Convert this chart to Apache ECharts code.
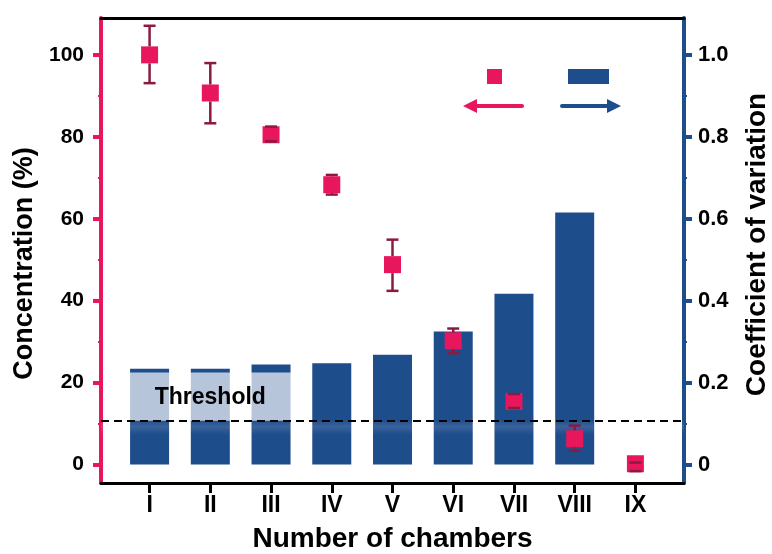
<!DOCTYPE html>
<html>
<head>
<meta charset="utf-8">
<script src="https://cdn.jsdelivr.net/npm/echarts@6/dist/echarts.min.js"></script>
<style>
  html, body { margin: 0; padding: 0; background: #fff; }
  #chart { width: 772px; height: 554px; }
</style>
</head>
<body>
<div id="chart"></div>
<script>
// chamber positions on the x axis (1..9) and their labels
const chamberPos = [1, 2, 3, 4, 5, 6, 7, 8, 9];
const chamberNames = ['I', 'II', 'III', 'IV', 'V', 'VI', 'VII', 'VIII', 'IX'];

// concentration (%) with error bar ends
const concentration = [100, 90.7, 80.5, 68.3, 48.8, 30.2, 15.4, 6.3, 0.2];
const concLow = [93.1, 83.3, 78.9, 65.9, 42.4, 27.2, 13.8, 3.4, -1.6];
const concHigh = [107.1, 98.0, 82.5, 70.7, 54.9, 33.2, 17.2, 9.5, 0.5];

// coefficient of variation (bars), IX has no bar
const cvValues = [0.234, 0.234, 0.244, 0.247, 0.268, 0.325, 0.417, 0.615, null];

const threshold = 10.7; // in % units, same line as 0.107 on the right axis
const thresholdBox = [0.5, 3.5, threshold, 22.5]; // x from, x to, y from, y to

const leftTicks = [0, 20, 40, 60, 80, 100];
const leftMinor = [10, 30, 50, 70, 90];
const rightTicks = [0, 0.2, 0.4, 0.6, 0.8, 1.0];
const rightMinor = [0.1, 0.3, 0.5, 0.7, 0.9];

const pink = '#e8175d';
const blue = '#1e4d8c';
const errColor = '#8b1a40';
const font = 'Liberation Sans, Arial, sans-serif';
const markerSize = 17;

const myChart = echarts.init(document.getElementById('chart'));

const option = {
    animation: false,
    textStyle: { fontFamily: font },
    grid: { left: 101, right: 88, top: 18, bottom: 71, outerBoundsMode: 'none' },
    xAxis: [
        {
            type: 'value',
            min: 0.2,
            max: 9.8,
            splitLine: { show: false },
            axisLine: { onZero: false, lineStyle: { color: '#000', width: 3 } },
            axisTick: {
                customValues: chamberPos,
                length: 10,
                lineStyle: { color: '#000', width: 3 }
            },
            axisLabel: {
                customValues: chamberPos,
                formatter: v => chamberNames[Math.round(v) - 1] || '',
                color: '#000',
                fontSize: 23,
                fontWeight: 'bold',
                margin: 11
            },
            name: 'Number of chambers',
            nameLocation: 'middle',
            nameGap: 42,
            nameTextStyle: { color: '#000', fontSize: 28, fontWeight: 'bold' }
        },
        {
            type: 'value',
            position: 'top',
            min: 0.2,
            max: 9.8,
            splitLine: { show: false },
            axisLine: { onZero: false, lineStyle: { color: '#000', width: 3 } },
            axisTick: { show: false },
            axisLabel: { show: false }
        }
    ],
    yAxis: [
        {
            type: 'value',
            position: 'left',
            min: -4.5,
            max: 109,
            splitLine: { show: false },
            axisLine: { onZero: false, lineStyle: { color: pink, width: 4 } },
            axisTick: {
                customValues: leftTicks,
                length: 8,
                lineStyle: { color: pink, width: 4 }
            },
            axisLabel: {
                customValues: leftTicks,
                color: '#000',
                fontSize: 21,
                fontWeight: 'bold',
                margin: 17
            },
            name: 'Concentration (%)',
            nameLocation: 'middle',
            nameGap: 57,
            nameTextStyle: { color: '#000', fontSize: 27, fontWeight: 'bold', padding: [0, 26, 0, 0] }
        },
        {
            type: 'value',
            position: 'right',
            min: -0.045,
            max: 1.09,
            splitLine: { show: false },
            axisLine: { onZero: false, lineStyle: { color: blue, width: 4 } },
            axisTick: {
                customValues: rightTicks,
                length: 8,
                lineStyle: { color: blue, width: 4 }
            },
            axisLabel: {
                customValues: rightTicks,
                formatter: v => (v === 0 ? '0' : v.toFixed(1)),
                color: '#000',
                fontSize: 22,
                fontWeight: 'bold',
                margin: 14
            },
            name: 'Coefficient of variation',
            nameLocation: 'middle',
            nameGap: 59,
            nameTextStyle: { color: '#000', fontSize: 28, fontWeight: 'bold', padding: [0, 0, 0, 12] }
        },
        // minor ticks
        {
            type: 'value',
            position: 'left',
            min: -4.5,
            max: 109,
            splitLine: { show: false },
            axisLine: { show: false },
            axisTick: { customValues: leftMinor, length: 3, lineStyle: { color: pink, width: 2 } },
            axisLabel: { show: false }
        },
        {
            type: 'value',
            position: 'right',
            min: -0.045,
            max: 1.09,
            splitLine: { show: false },
            axisLine: { show: false },
            axisTick: { customValues: rightMinor, length: 3, lineStyle: { color: blue, width: 2 } },
            axisLabel: { show: false }
        }
    ],
    series: [
        {
            name: 'CV',
            type: 'bar',
            xAxisIndex: 0,
            yAxisIndex: 1,
            barWidth: 39,
            z: 2,
            itemStyle: { color: blue },
            data: chamberPos.map((x, i) => [x, cvValues[i]]).filter(d => d[1] !== null)
        },
        {
            // light box behind the "Threshold" text, over the first bars
            name: 'thresholdBox',
            type: 'custom',
            xAxisIndex: 0,
            yAxisIndex: 0,
            z: 3,
            silent: true,
            data: [thresholdBox],
            renderItem: function (params, api) {
                const p1 = api.coord([api.value(0), api.value(3)]);
                const p2 = api.coord([api.value(1), api.value(2)]);
                const bandTop = api.coord([0.2, api.value(2)]);
                const bandBottom = api.coord([9.8, api.value(2) - 3.5]);
                return {
                    type: 'group',
                    children: [
                        {
                            // faint glow just under the threshold line
                            type: 'rect',
                            shape: {
                                x: bandTop[0], y: bandTop[1],
                                width: bandBottom[0] - bandTop[0], height: bandBottom[1] - bandTop[1]
                            },
                            style: {
                                fill: new echarts.graphic.LinearGradient(0, 0, 0, 1, [
                                    { offset: 0, color: 'rgba(255,255,255,0.02)' },
                                    { offset: 0.4, color: 'rgba(255,255,255,0.12)' },
                                    { offset: 1, color: 'rgba(255,255,255,0)' }
                                ])
                            }
                        },
                        {
                            type: 'rect',
                            shape: { x: p1[0], y: p1[1], width: p2[0] - p1[0], height: p2[1] - p1[1] },
                            style: { fill: 'rgba(255,255,255,0.68)' }
                        },
                        {
                            type: 'text',
                            x: (p1[0] + p2[0]) / 2,
                            y: (p1[1] + p2[1]) / 2 + 1,
                            style: {
                                text: 'Threshold',
                                fill: '#000',
                                font: 'bold 23px ' + font,
                                align: 'center',
                                verticalAlign: 'middle'
                            }
                        }
                    ]
                };
            },
            markLine: {
                silent: true,
                symbol: 'none',
                label: { show: false },
                lineStyle: { color: '#000', type: [8, 5], width: 2 },
                data: [{ yAxis: threshold }]
            }
        },
        {
            name: 'Concentration',
            type: 'scatter',
            xAxisIndex: 0,
            yAxisIndex: 0,
            z: 4,
            symbol: 'rect',
            symbolSize: markerSize,
            itemStyle: { color: pink, opacity: 1 },
            data: chamberPos.map((x, i) => [x, concentration[i]])
        },
        {
            name: 'error',
            type: 'custom',
            xAxisIndex: 0,
            yAxisIndex: 0,
            z: 5,
            silent: true,
            data: chamberPos.map((x, i) => [x, concLow[i], concHigh[i], concentration[i]]),
            renderItem: function (params, api) {
                const x = api.value(0);
                const lo = api.coord([x, api.value(1)]);
                const hi = api.coord([x, api.value(2)]);
                const c = api.coord([x, api.value(3)]);
                const half = markerSize / 2;
                const w = 6;
                const style = { stroke: errColor, lineWidth: 2.5 };
                const children = [
                    { type: 'line', shape: { x1: hi[0] - w, y1: hi[1], x2: hi[0] + w, y2: hi[1] }, style: style },
                    { type: 'line', shape: { x1: lo[0] - w, y1: lo[1], x2: lo[0] + w, y2: lo[1] }, style: style }
                ];
                // stems only outside the square marker
                if (hi[1] < c[1] - half) {
                    children.push({ type: 'line', shape: { x1: hi[0], y1: hi[1], x2: hi[0], y2: c[1] - half }, style: style });
                }
                if (lo[1] > c[1] + half) {
                    children.push({ type: 'line', shape: { x1: lo[0], y1: c[1] + half, x2: lo[0], y2: lo[1] }, style: style });
                }
                return { type: 'group', children: children };
            }
        }
    ],
    graphic: [
        // legend-like markers and arrows
        { type: 'rect', shape: { x: 487, y: 69, width: 15, height: 15 }, style: { fill: pink } },
        { type: 'rect', shape: { x: 568, y: 69, width: 41, height: 15 }, style: { fill: blue } },
        { type: 'line', shape: { x1: 472, y1: 106, x2: 522, y2: 106 }, style: { stroke: pink, lineWidth: 4, lineCap: 'round' } },
        { type: 'polygon', shape: { points: [[463, 106], [477, 99], [477, 113]] }, style: { fill: pink } },
        { type: 'line', shape: { x1: 562, y1: 106, x2: 612, y2: 106 }, style: { stroke: blue, lineWidth: 4, lineCap: 'round' } },
        { type: 'polygon', shape: { points: [[621, 106], [607, 99], [607, 113]] }, style: { fill: blue } }
    ]
};

myChart.setOption(option);
</script>
</body>
</html>
